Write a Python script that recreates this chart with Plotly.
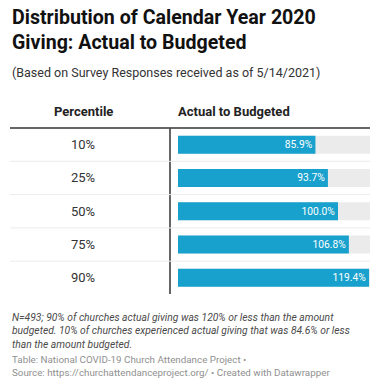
import plotly.graph_objects as go

percentiles = ["10%", "25%", "50%", "75%", "90%"]
actual_to_budgeted = [85.9, 93.7, 100.0, 106.8, 119.4]
scale_max = 120
value_labels = ["85.9%", "93.7%", "100.0%", "106.8%", "119.4%"]

W, H = 380, 388
FONT = "Roboto"
BLUE = "#18a1cd"

def px(x):
    return x / W

def py(y):
    return 1 - y / H

top, bottom = 128, 294.5
fig = go.Figure()

fig.add_trace(go.Bar(
    x=[scale_max] * len(percentiles), y=percentiles, orientation="h",
    marker=dict(color="#ebebeb", line=dict(width=0)), width=0.54,
    hoverinfo="skip", showlegend=False,
))
fig.add_trace(go.Bar(
    x=actual_to_budgeted, y=percentiles, orientation="h",
    marker=dict(color=BLUE, line=dict(width=0)), width=0.54,
    text=value_labels, textposition="inside", insidetextanchor="end",
    textfont=dict(family=FONT, size=12, color="white"),
    showlegend=False,
))

fig.update_layout(
    width=W, height=H, margin=dict(l=0, r=0, t=0, b=0),
    paper_bgcolor="white", plot_bgcolor="white",
    barmode="overlay",
    xaxis=dict(domain=[px(178), px(370)], range=[0, scale_max], visible=False, fixedrange=True),
    yaxis=dict(domain=[py(bottom), py(top)], categoryorder="array", categoryarray=percentiles,
               autorange="reversed", visible=False, fixedrange=True),
    font=dict(family=FONT),
)

# Percentile labels
for p in percentiles:
    fig.add_annotation(x=px(83), xref="paper", y=p, yref="y", text=p, showarrow=False,
                       xanchor="center", yanchor="middle",
                       font=dict(family=FONT, size=13, color="#333"))

# header
fig.add_annotation(x=px(83), y=py(111), xref="paper", yref="paper", text="<b>Percentile</b>",
                   showarrow=False, xanchor="center", yanchor="middle",
                   font=dict(family=FONT, size=13, color="#222"))
fig.add_annotation(x=px(176), y=py(111), xref="paper", yref="paper", text="<b>Actual to Budgeted</b>",
                   showarrow=False, xanchor="left", yanchor="middle",
                   font=dict(family=FONT, size=13, color="#222"))

shapes = []
shapes.append(dict(type="line", xref="paper", yref="paper", x0=px(10), x1=px(370),
                   y0=py(128), y1=py(128), line=dict(color="#333", width=1.5)))
shapes.append(dict(type="line", xref="paper", yref="paper", x0=px(170), x1=px(170),
                   y0=py(128.5), y1=py(294), line=dict(color="#333", width=1.5)))
row_h = (bottom - top) / len(percentiles)
for i in range(1, len(percentiles)):
    yy = top + i * row_h
    shapes.append(dict(type="line", xref="paper", yref="paper", x0=px(10), x1=px(370),
                       y0=py(yy), y1=py(yy), line=dict(color="#ececec", width=1)))
fig.update_layout(shapes=shapes)

# Title
fig.add_annotation(x=px(10), y=py(30), xref="paper", yref="paper",
                   text="<b>Distribution of Calendar Year 2020<br>Giving: Actual to Budgeted</b>",
                   showarrow=False, xanchor="left", yanchor="middle", align="left",
                   font=dict(family=FONT, size=19.6, color="#111"))
fig.add_annotation(x=px(10), y=py(72), xref="paper", yref="paper",
                   text="(Based on Survey Responses received as of 5/14/2021)",
                   showarrow=False, xanchor="left", yanchor="middle", align="left",
                   font=dict(family=FONT, size=12.5, color="#333"))

fig.add_annotation(x=px(10), y=py(331), xref="paper", yref="paper",
                   text="<i>N=493; 90% of churches actual giving was 120% or less than the amount<br>"
                        "budgeted. 10% of churches experienced actual giving that was 84.6% or less<br>"
                        "than the amount budgeted.</i>",
                   showarrow=False, xanchor="left", yanchor="middle", align="left",
                   font=dict(family=FONT, size=10.3, color="#4a4a4a"))
fig.add_annotation(x=px(10), y=py(366), xref="paper", yref="paper",
                   text="Table: National COVID-19 Church Attendance Project •<br>"
                        "Source: https://churchattendanceproject.org/ • Created with Datawrapper",
                   showarrow=False, xanchor="left", yanchor="middle", align="left",
                   font=dict(family=FONT, size=9.8, color="#909090"))

fig.write_html("out.html", config={"displayModeBar": False},
               post_script="document.body.style.margin='0';document.body.style.overflow='hidden';")
